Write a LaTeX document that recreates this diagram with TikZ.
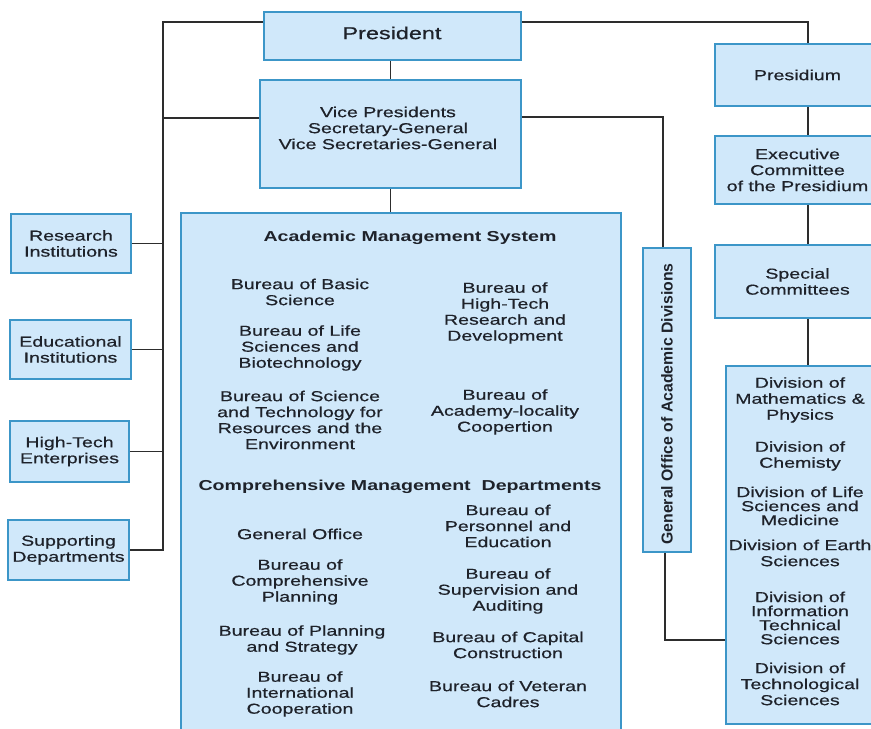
\documentclass[tikz,border=0pt]{standalone}
\usepackage{fontspec}
\setmainfont{Liberation Sans}[FakeStretch=1.36, UprightFeatures={FakeBold=0.6}]
\newfontfamily\upfont{Liberation Sans}
\usepackage{xcolor}
\usepackage{tikz}
\usetikzlibrary{positioning}

\definecolor{boxfill}{RGB}{208,232,250}
\definecolor{boxline}{RGB}{60,150,200}
\definecolor{textcol}{RGB}{30,34,42}
\definecolor{wirecol}{RGB}{45,45,45}

\tikzset{
    orgbox/.style={draw=boxline, fill=boxfill, line width=1pt, align=center,
        inner sep=0pt, text=textcol, font=\fontsize{8.2}{9.1}\selectfont},
    unit/.style={align=center, inner sep=0pt, text=textcol,
        font=\fontsize{8.2}{9.1}\selectfont},
    tightunit/.style={unit, font=\fontsize{8.2}{8}\selectfont},
    headline/.style={unit, font=\bfseries\fontsize{8.2}{9.1}\selectfont},
    wire/.style={draw=wirecol, line width=1.1pt},
}

\begin{document}
\begin{tikzpicture}[x=0.2mm, y=-0.2mm]
                    \useasboundingbox (0,0) rectangle (871,729);
                    \clip (0,0) rectangle (871,729);
                    % Top of the hierarchy
                    \node[orgbox, minimum width=51.4mm, minimum height=9.6mm] (pres) at (392.5,36) {};
                    \node[unit, font=\fontsize{9.8}{11}\selectfont] (prestext) at (392,33) {President};
                    \node[orgbox, minimum width=52.2mm, minimum height=21.6mm] (vp) at (390.5,134) {};
                    \node[unit] (vptext) at (388,128)
                        {Vice Presidents\\Secretary-General\\Vice Secretaries-General};
                    % Academic management box
                    \node[orgbox, minimum width=88mm, minimum height=105.4mm] (acad) at (401,476.5) {};
                    \node[headline] (amshead) at (410,238) {Academic Management System};
                    \node[unit] (basic) at (300,292) {Bureau of Basic\\Science};
                    \node[unit] (life) at (300,348) {Bureau of Life\\Sciences and\\Biotechnology};
                    \node[unit] (scitech) at (300,420) {Bureau of Science\\and Technology for\\Resources and the\\Environment};
                    \node[unit] (hightech) at (505,313) {Bureau of\\High-Tech\\Research and\\Development};
                    \node[unit] (locality) at (505,412) {Bureau of\\Academy-locality\\Coopertion};
                    \node[headline] (cmdhead) at (400,487) {Comprehensive Management\ \ Departments};
                    \node[unit] (genoffice) at (300,534) {General Office};
                    \node[unit] (compplan) at (300,582) {Bureau of\\Comprehensive\\Planning};
                    \node[unit] (planstrat) at (302,640) {Bureau of Planning\\and Strategy};
                    \node[unit] (intl) at (300,694) {Bureau of\\International\\Cooperation};
                    \node[unit] (personnel) at (508,526) {Bureau of\\Personnel and\\Education};
                    \node[unit] (supervision) at (508,591) {Bureau of\\Supervision and\\Auditing};
                    \node[unit] (capital) at (508,645) {Bureau of Capital\\Construction};
                    \node[unit] (veteran) at (508,694) {Bureau of Veteran\\Cadres};
                    % General office of the divisions
                    \node[orgbox, minimum width=9.6mm, minimum height=60.8mm] (genoff) at (667,400) {};
                    \node[rotate=90, inner sep=0pt, text=textcol,
                        font=\upfont\bfseries\fontsize{9}{10}\selectfont] (genofftext) at (667,404)
                        {General Office of Academic Divisions};
                    % Right column
                    \node[orgbox, minimum width=33mm, minimum height=12.4mm] (presidium) at (797.5,75) {Presidium};
                    \node[orgbox, minimum width=33mm, minimum height=13.6mm] (exec) at (797.5,170)
                        {Executive\\Committee\\of the Presidium};
                    \node[orgbox, minimum width=33mm, minimum height=14.6mm] (special) at (797.5,281.5)
                        {Special\\Committees};
                    \node[orgbox, minimum width=31.8mm, minimum height=71.6mm] (divs) at (805.5,545) {};
                    \node[unit] (math) at (800,400) {Division of\\Mathematics \&\\Physics};
                    \node[unit] (chem) at (800,456) {Division of\\Chemisty};
                    \node[tightunit] (lifemed) at (800,506) {Division of Life\\Sciences and\\Medicine};
                    \node[unit] (earth) at (800,553) {Division of Earth\\Sciences};
                    \node[tightunit] (info) at (800,618) {Division of\\Information\\Technical\\Sciences};
                    \node[unit] (techsci) at (800,684) {Division of\\Technological\\Sciences};
                    % Left column
                    \node[orgbox, minimum width=24mm, minimum height=11.8mm] (research) at (71,243.5)
                        {Research\\Institutions};
                    \node[orgbox, minimum width=24.2mm, minimum height=11.8mm] (edu) at (70.5,349.5)
                        {Educational\\Institutions};
                    \node[orgbox, minimum width=23.8mm, minimum height=12.2mm] (hitech) at (69.5,451.5)
                        {High-Tech\\Enterprises};
                    \node[orgbox, minimum width=24.2mm, minimum height=12mm] (support) at (68.5,550)
                        {Supporting\\Departments};
                    % Connectors
                    \coordinate (ltop) at (163,22);
                    \coordinate (lvp) at (163,118);
                    \coordinate (rtop) at (808,22);
                    \coordinate (goff) at (663,117);
                    \coordinate (gbot) at (665,640);
                    \draw[wire] (ltop -| pres.west) -- (ltop) -- (support.east -| ltop) -- (support.east);
                    \draw[wire] (lvp) -- (lvp -| vp.west);
                    \draw[wire] (research.east) -- (research.east -| ltop);
                    \draw[wire] (edu.east) -- (edu.east -| ltop);
                    \draw[wire] (hitech.east) -- (hitech.east -| ltop);
                    \draw[wire] (vp.north) -- (vp.north |- pres.south);
                    \draw[wire] (vp.south) -- (vp.south |- acad.north);
                    \draw[wire] (rtop -| pres.east) -- (rtop) -- (presidium.north -| rtop);
                    \draw[wire] (presidium.south -| rtop) -- (exec.north -| rtop);
                    \draw[wire] (exec.south -| rtop) -- (special.north -| rtop);
                    \draw[wire] (special.south -| rtop) -- (divs.north -| rtop);
                    \draw[wire] (goff -| vp.east) -- (goff) -- (genoff.north -| goff);
                    \draw[wire] (genoff.south -| gbot) -- (gbot) -- (gbot -| divs.west);
                \end{tikzpicture}
\end{document}
